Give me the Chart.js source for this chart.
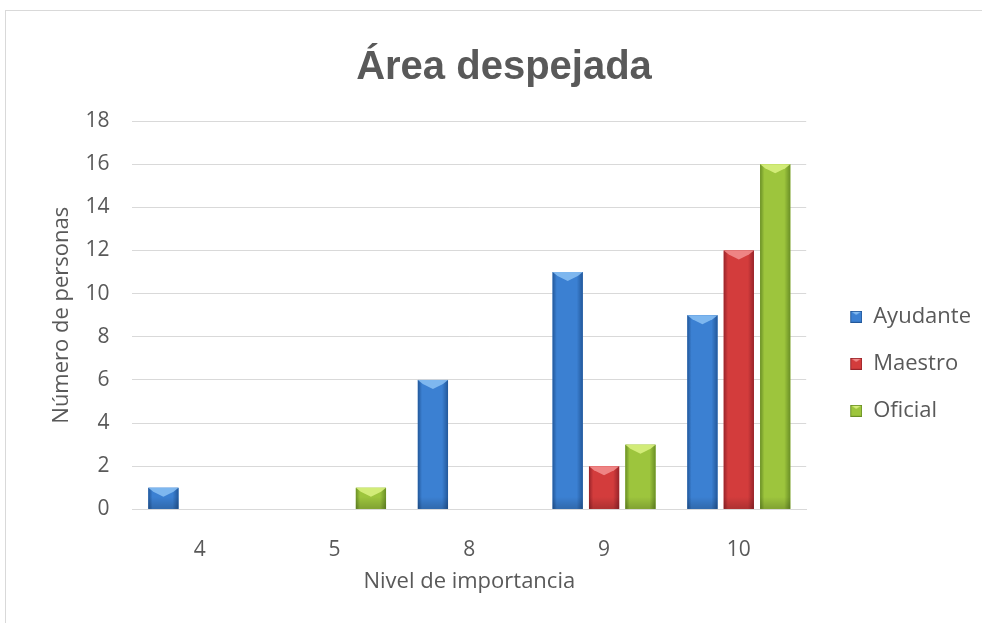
<!DOCTYPE html>
<html lang="es">
<head>
<meta charset="UTF-8">
<title>Área despejada</title>
<script src="https://cdn.jsdelivr.net/npm/chart.js"></script>
<style>
  body { margin: 0; background: #fff; }
  .marco {
    position: absolute; left: 5px; top: 10px;
    width: 990px; height: 630px;
    border: 1px solid #d9d9d9;
    background: #fff;
  }
  #grafico { position: absolute; left: 0; top: 0; }
</style>
</head>
<body>
<div class="marco">
  <canvas id="grafico" width="976" height="612"></canvas>
</div>
<script>
  // datos
  var niveles = ['4', '5', '8', '9', '10'];
  var ayudante = [1, 0, 6, 11, 9];
  var maestro = [0, 0, 0, 2, 12];
  var oficial = [0, 1, 0, 3, 16];

  // [oscuro, medio, claro]
  var tonos = [
    ['#23589a', '#3b80d2', '#86bdf2'],
    ['#98242a', '#d33c3c', '#f28c8c'],
    ['#6a8f26', '#9dc53d', '#d8ef7e']
  ];

  // cuadrito de leyenda, con hueco a la izquierda para separarlo del grafico
  function cuadro(t) {
    var c = document.createElement('canvas');
    c.width = 31; c.height = 12;
    var g = c.getContext('2d');
    g.fillStyle = t[1];
    g.fillRect(19, 0, 12, 12);
    g.fillStyle = t[2];
    g.beginPath();
    g.moveTo(19, 0); g.lineTo(31, 0); g.lineTo(25, 4); g.closePath();
    g.fill();
    g.strokeStyle = t[0];
    g.lineWidth = 1;
    g.strokeRect(19.5, 0.5, 11, 11);
    return c;
  }

  // barras con bisel: bordes oscuros y chevron claro arriba
  var bisel = {
    id: 'bisel',
    afterDatasetsDraw: function (chart) {
      var ctx = chart.ctx;
      chart.data.datasets.forEach(function (ds, i) {
        var t = tonos[i];
        chart.getDatasetMeta(i).data.forEach(function (bar, j) {
          if (!ds.data[j]) return;
          var l = bar.x - bar.width / 2, r = bar.x + bar.width / 2;
          var top = bar.y, base = bar.base;
          ctx.save();
          var g = ctx.createLinearGradient(l, 0, r, 0);
          g.addColorStop(0, t[0]);
          g.addColorStop(0.14, t[1]);
          g.addColorStop(0.8, t[1]);
          g.addColorStop(1, t[0]);
          ctx.fillStyle = g;
          ctx.fillRect(l, top, r - l, base - top);
          var v = ctx.createLinearGradient(0, base - 12, 0, base);
          v.addColorStop(0, 'rgba(0,0,0,0)');
          v.addColorStop(1, 'rgba(0,0,0,0.18)');
          ctx.fillStyle = v;
          ctx.fillRect(l, Math.max(top, base - 12), r - l, Math.min(12, base - top));
          var h = Math.min(9, (base - top) * 0.6);
          ctx.fillStyle = t[2];
          ctx.globalAlpha = 0.9;
          ctx.beginPath();
          ctx.moveTo(l, top);
          ctx.lineTo(r, top);
          ctx.lineTo(r - 5, top + h * 0.45);
          ctx.lineTo(bar.x, top + h);
          ctx.lineTo(l + 5, top + h * 0.45);
          ctx.closePath();
          ctx.fill();
          ctx.restore();
        });
      });
    }
  };

  var data = {
    labels: niveles,
    datasets: [
      { label: 'Ayudante', data: ayudante, backgroundColor: tonos[0][1] },
      { label: 'Maestro', data: maestro, backgroundColor: tonos[1][1] },
      { label: 'Oficial', data: oficial, backgroundColor: tonos[2][1] }
    ]
  };

  var ctx = document.getElementById('grafico').getContext('2d');

  var myChart = new Chart(ctx, {
    type: 'bar',
    data: data,
    plugins: [bisel],
    options: {
      responsive: false,
      animation: false,
      layout: { padding: { left: 21, right: 1, top: 20, bottom: 20 } },
      datasets: {
        bar: { categoryPercentage: 0.81, barPercentage: 0.83 }
      },
      plugins: {
        title: {
          display: true,
          text: 'Área despejada',
          color: '#595959',
          font: { family: 'Liberation Sans', size: 40, weight: 'bold' },
          padding: { top: 13, bottom: 29 }
        },
        legend: {
          position: 'right',
          title: { display: true, text: ' ', font: { size: 18 }, padding: { top: 36, bottom: 36 } },
          labels: {
            color: '#595959',
            font: { family: 'Open Sans', size: 22 },
            usePointStyle: true,
            pointStyleWidth: 31,
            boxHeight: 12,
            padding: 25,
            generateLabels: function (chart) {
              return chart.data.datasets.map(function (ds, i) {
                return {
                  text: ds.label,
                  pointStyle: cuadro(tonos[i]),
                  fillStyle: tonos[i][1],
                  strokeStyle: tonos[i][0],
                  lineWidth: 0,
                  fontColor: '#595959',
                  datasetIndex: i
                };
              });
            }
          }
        },
        tooltip: { enabled: false }
      },
      scales: {
        x: {
          grid: { display: false, drawTicks: false },
          border: { color: '#d9d9d9', width: 1 },
          ticks: { color: '#595959', font: { family: 'Open Sans', size: 21 }, padding: 28 },
          title: {
            display: true,
            text: 'Nivel de importancia',
            color: '#595959',
            font: { family: 'Open Sans', size: 22 },
            padding: { top: -22, bottom: 8 }
          }
        },
        y: {
          min: 0,
          max: 18,
          ticks: { stepSize: 2, color: '#595959', font: { family: 'Open Sans', size: 21 }, padding: 23 },
          grid: { color: '#d9d9d9', drawTicks: false },
          border: { display: false },
          title: {
            display: true,
            text: 'Número de personas',
            color: '#595959',
            font: { family: 'Open Sans', size: 22 },
            padding: { top: 22, bottom: -13 }
          }
        }
      }
    }
  });
</script>
</body>
</html>
